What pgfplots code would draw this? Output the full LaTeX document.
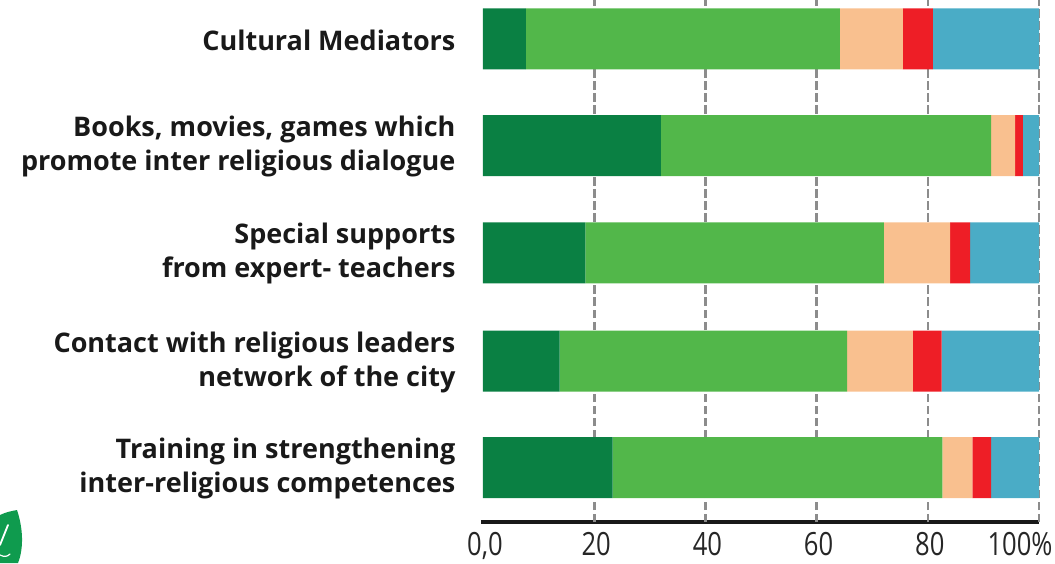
\documentclass[border=0pt]{standalone}
\usepackage{fontspec}
\usepackage{pgfplots}
\pgfplotsset{compat=1.18}
\setmainfont{Open Sans}
\newfontfamily\condfont[FakeStretch=0.8]{Open Sans}
\definecolor{cA}{HTML}{0A8043}
\definecolor{cB}{HTML}{52B74A}
\definecolor{cC}{HTML}{F9C08F}
\definecolor{cD}{HTML}{EE1E26}
\definecolor{cE}{HTML}{4AACC6}
\definecolor{gridc}{HTML}{8C8C8C}
\definecolor{leafc}{HTML}{0F9B4E}
\begin{document}
\begin{tikzpicture}[x=1pt,y=1pt]
\path[use as bounding box] (0,0) rectangle (1055,563);
\fill[fill=leafc] (17,53) .. controls (23,35) and (24,15) .. (18,0) -- (0,0) -- (0,48) .. controls (6,51) and (12,52) .. (17,53) -- cycle;
\draw[white,line width=1.8pt,line cap=round] (0,18) -- (8,38);
\draw[white,line width=1.2pt,line cap=round] (0,8) .. controls (4,6) and (7,6) .. (10,9);
\begin{axis}[
  at={(483pt,41pt)}, anchor=south west,
  scale only axis, width=556pt, height=522pt,
  xbar stacked, bar width=61pt,
  xmin=0, xmax=100, ymin=-0.509, ymax=4.369,
  axis x line=bottom, axis y line=left,
  x axis line style={black!90,line width=3.2pt,-,shorten <=-2pt},
  y axis line style={draw=none},
  xtick={0,20,40,60,80,100},
  xticklabels={0{,}0,20,40,60,80,100\%\kern 42pt},
  extra x ticks={20,40,60,80,100},
  extra x tick labels={},
  extra x tick style={grid=major, major grid style={gridc,line width=2.6pt,dash pattern=on 8.5pt off 3.5pt}},
  major tick length=0pt,
  xticklabel style={font=\condfont\fontsize{32}{32}\selectfont,text=black!85,anchor=north,inner sep=0pt,yshift=-10pt,xshift=2pt},
  ytick={0,0.995,2.005,3.009,4.005},
  yticklabels={{Training in strengthening\\inter-religious competences},
               {Contact with religious leaders\\network of the city},
               {Special supports\\from expert- teachers},
               {Books, movies, games which\\promote inter religious dialogue},
               {Cultural Mediators}},
  yticklabel style={font=\bfseries\fontsize{27}{34}\selectfont,align=right,anchor=east,xshift=-24pt,yshift=-1pt,text=black!90},
]
\addplot[draw=none,fill=cA] coordinates {(23.3,0) (13.8,0.995) (18.4,2.005) (32.0,3.009) (7.7,4.005)};
\addplot[draw=none,fill=cB] coordinates {(59.3,0) (51.7,0.995) (53.7,2.005) (59.4,3.009) (56.5,4.005)};
\addplot[draw=none,fill=cC] coordinates {(5.4,0) (11.8,0.995) (11.9,2.005) (4.3,3.009) (11.3,4.005)};
\addplot[draw=none,fill=cD] coordinates {(3.4,0) (5.2,0.995) (3.6,2.005) (1.4,3.009) (5.4,4.005)};
\addplot[draw=none,fill=cE] coordinates {(8.6,0) (17.5,0.995) (12.4,2.005) (2.9,3.009) (19.1,4.005)};
\end{axis}
\end{tikzpicture}
\end{document}
